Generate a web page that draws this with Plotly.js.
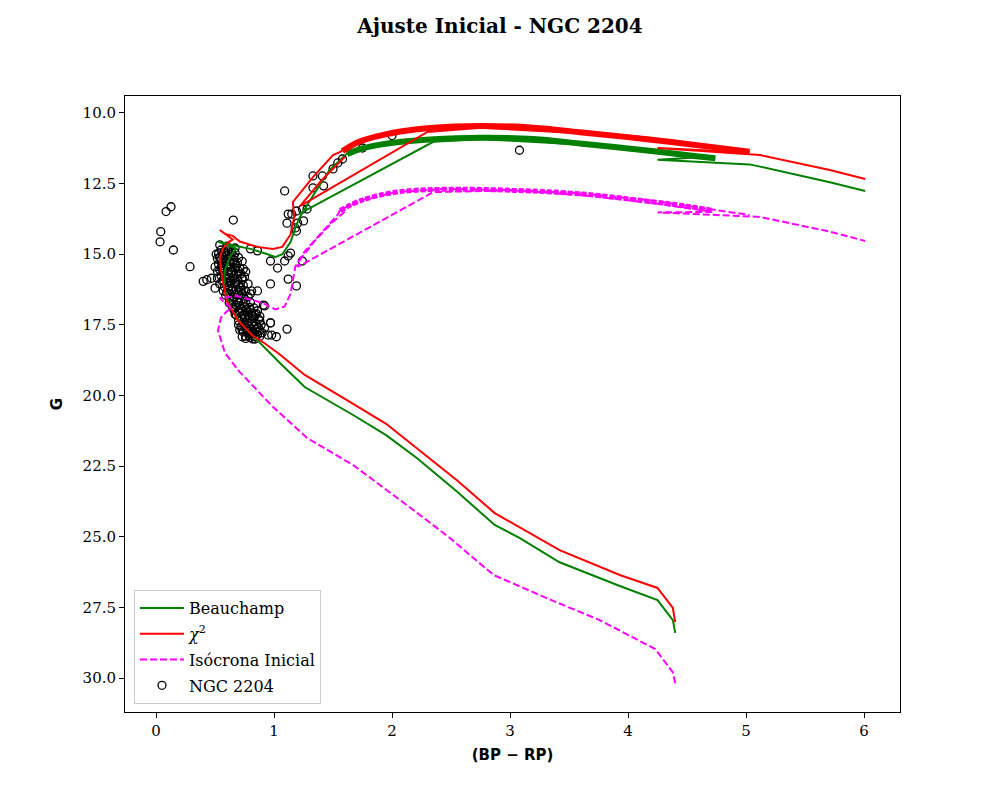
<!DOCTYPE html>
<html>
<head>
<meta charset="utf-8">
<script src="https://cdn.plot.ly/plotly-3.0.1.min.js"></script>
<style>
  body { margin: 0; background: #fff; }
  #chart { width: 1000px; height: 800px; }
</style>
</head>
<body>
<div id="chart"></div>
<script>
// isochrone Beauchamp (green) - null breaks the path between segments
let beau_bp = [4.40, 4.38, 4.25, 3.93, 3.42, 3.08, 2.87, 2.55, 2.21, 1.95, 1.67, 1.45, 1.26, 1.05, 0.84, 0.73, 0.63, 0.58, 0.58, 0.63, 0.68,
	0.525, 0.65, 0.80, 0.94, 1.01, 1.07, 1.14, 1.19, 1.22, 1.35, 1.47, 1.62, 1.90, 2.32, 2.75, 3.59, 4.16, 4.58, 4.74,
	null,
	1.22, 2.35, 2.75, 3.59, 4.16, 4.58, 4.25, 5.03, 5.12, 5.71, 6.01];
let beau_g = [28.40, 27.95, 27.24, 26.74, 25.90, 25.04, 24.58, 23.40, 22.21, 21.40, 20.69, 20.15, 19.70, 18.85, 17.96, 17.50, 16.90, 16.20, 15.60, 15.06, 14.80,
	14.55, 14.68, 14.81, 14.99, 15.10, 15.00, 14.57, 13.96, 13.67, 12.80, 12.02, 11.43, 11.13, 10.93, 10.86, 11.07, 11.31, 11.51, 11.60,
	null,
	13.55, 11.02, 10.92, 11.12, 11.38, 11.58, 11.66, 11.82, 11.90, 12.45, 12.76];
let beau_band_bp = [1.62, 1.75, 1.90, 2.10, 2.32, 2.75, 3.20, 3.59, 4.16, 4.58, 4.74];
let beau_band_g = [11.45, 11.25, 11.12, 11.01, 10.94, 10.88, 10.92, 11.08, 11.33, 11.53, 11.60];

// isochrone chi^2 (red)
let chi_bp = [4.40, 4.38, 4.25, 3.93, 3.42, 3.08, 2.87, 2.55, 2.21, 1.95, 1.66, 1.45, 1.26, 1.05, 0.92, 0.81, 0.69, 0.60, 0.56, 0.54, 0.57, 0.62, 0.65,
	0.54, 0.585, 0.65, 0.71, 0.86, 0.99, 1.07, 1.14, 1.17, 1.16, 1.33, 1.50, 1.56, 1.67, 1.90, 2.32, 2.75, 3.20, 3.59, 4.16, 4.72, 5.03,
	null,
	1.60, 1.40, 1.22, 2.30, 2.75, 3.59, 4.16, 4.72, 5.03, 4.25, 5.12, 5.71, 6.01];
let chi_g = [28.02, 27.52, 26.81, 26.35, 25.47, 24.65, 24.16, 23.00, 21.86, 21.00, 20.27, 19.75, 19.27, 18.55, 18.15, 17.85, 17.32, 16.65, 15.84, 15.13, 14.78, 14.55, 14.48,
	14.14, 14.28, 14.35, 14.55, 14.74, 14.81, 14.74, 14.30, 13.70, 13.15, 12.27, 11.49, 11.38, 11.06, 10.78, 10.52, 10.45, 10.50, 10.65, 10.87, 11.17, 11.35,
	null,
	11.55, 12.40, 13.30, 10.67, 10.52, 10.72, 10.94, 11.24, 11.40, 11.24, 11.49, 12.02, 12.34];
let chi_band_bp = [1.58, 1.72, 1.90, 2.10, 2.32, 2.75, 3.20, 3.59, 4.16, 4.72, 5.03];
let chi_band_g = [11.35, 11.02, 10.80, 10.64, 10.53, 10.46, 10.52, 10.68, 10.93, 11.21, 11.37];

// initial isochrone (magenta, dashed)
let ini_bp = [4.40, 4.38, 4.23, 3.76, 3.30, 2.86, 2.49, 2.18, 1.67, 1.28, 0.99, 0.71, 0.585, 0.525, 0.55, 0.60, 0.64,
	0.54, 0.69, 0.90, 1.01, 1.09, 1.14, 1.16, 1.18, 1.26, 1.43, 1.54, 1.56, 1.75, 2.04, 2.46, 3.03, 3.59, 4.16, 4.72, 5.03,
	null,
	1.60, 1.50, 1.35, 1.22, 1.20, 2.35, 3.03, 3.59, 4.16, 4.72, 4.25, 5.03, 5.12, 5.71, 6.01];
let ini_g = [30.18, 29.80, 28.97, 27.95, 27.15, 26.35, 25.04, 24.05, 22.46, 21.50, 20.40, 19.17, 18.50, 17.70, 17.25, 17.02, 16.92,
	16.55, 16.48, 16.72, 16.95, 16.85, 16.40, 15.84, 15.45, 14.90, 14.10, 13.60, 13.43, 13.08, 12.79, 12.69, 12.73, 12.84, 13.08, 13.43, 13.61,
	null,
	13.50, 13.85, 14.50, 15.20, 15.45, 12.80, 12.74, 12.90, 13.16, 13.50, 13.52, 13.64, 13.68, 14.20, 14.53];
let ini_band_bp = [1.56, 1.75, 2.04, 2.46, 3.03, 3.59, 4.16, 4.50, 4.72];
let ini_band_g = [13.45, 13.08, 12.80, 12.70, 12.74, 12.86, 13.12, 13.30, 13.45];

// NGC 2204 members
let star_bp = [0.127, 0.085, 0.040, 0.034, 0.147, 0.288, 0.400, 0.655,
	1.09, 1.33, 1.41, 1.42, 1.33, 1.50, 1.54, 1.58, 1.75, 2.00, 3.08,
	1.15, 1.19, 1.24, 1.28, 1.20, 1.11, 1.18, 1.19, 1.25, 1.12, 1.09, 1.12, 1.14, 1.03, 0.97, 0.86, 0.80, 1.12, 0.97, 1.19, 1.24,
	0.74, 0.73, 0.86, 0.81, 0.92, 1.11, 1.02, 0.98, 0.95, 0.91, 0.88, 0.97, 0.50, 0.47, 0.43,
	0.54, 0.60, 0.67, 0.55, 0.58, 0.61, 0.64, 0.67, 0.53, 0.56, 0.60, 0.63, 0.66, 0.70,
	0.52, 0.55, 0.58, 0.62, 0.65, 0.69, 0.73, 0.53, 0.56, 0.60, 0.63, 0.67, 0.71,
	0.54, 0.57, 0.61, 0.64, 0.68, 0.72, 0.76, 0.55, 0.58, 0.62, 0.65, 0.69, 0.73,
	0.56, 0.60, 0.63, 0.67, 0.70, 0.74, 0.78, 0.58, 0.61, 0.65, 0.68, 0.72, 0.76,
	0.60, 0.63, 0.67, 0.70, 0.74, 0.78, 0.62, 0.65, 0.69, 0.72, 0.76, 0.80,
	0.64, 0.68, 0.71, 0.75, 0.79, 0.83, 0.66, 0.70, 0.73, 0.77, 0.81, 0.85,
	0.68, 0.72, 0.76, 0.79, 0.83, 0.87, 0.70, 0.74, 0.78, 0.81, 0.85, 0.89,
	0.72, 0.76, 0.80, 0.84, 0.88, 0.74, 0.78, 0.82, 0.86, 0.76, 0.80, 0.84,
	0.71, 0.80, 0.73, 0.97, 0.84, 0.92, 0.82, 0.75,
	0.51, 0.54, 0.57, 0.60, 0.63, 0.66, 0.68, 0.59, 0.62,
	0.50, 0.52, 0.55, 0.58, 0.61, 0.64, 0.66, 0.70, 0.52, 0.57, 0.60, 0.63, 0.68, 0.75,
	0.54, 0.57, 0.59, 0.62, 0.64, 0.66, 0.69, 0.71, 0.73, 0.75, 0.80,
	0.62, 0.65, 0.67, 0.70, 0.72, 0.74, 0.76, 0.78, 0.80, 0.82, 0.86, 0.88,
	0.70, 0.73, 0.75, 0.77, 0.79, 0.81, 0.83, 0.85, 0.87, 0.90, 0.88, 0.84, 0.79, 0.76];
let star_g = [13.32, 13.49, 14.20, 14.56, 14.85, 15.44, 15.96, 13.79,
	12.76, 12.23, 12.23, 12.58, 12.65, 11.98, 11.77, 11.63, 11.24, 10.80, 11.32,
	13.58, 13.47, 13.40, 13.40, 13.90, 13.90, 14.07, 14.18, 13.82, 13.58, 15.24, 15.06, 14.96, 15.49, 15.24, 14.88, 14.81, 15.88, 16.05, 16.12, 15.24,
	15.52, 15.84, 16.30, 16.30, 16.83, 17.65, 17.92, 17.86, 17.86, 16.80, 17.36, 17.43, 16.20, 15.85, 15.90,
	14.67, 14.71, 14.78, 14.85, 14.90, 14.88, 14.92, 14.95, 14.98, 15.02, 15.05, 15.10, 15.08, 15.12,
	15.15, 15.20, 15.22, 15.25, 15.28, 15.30, 15.25, 15.35, 15.40, 15.42, 15.45, 15.48, 15.50,
	15.55, 15.60, 15.62, 15.65, 15.68, 15.70, 15.62, 15.75, 15.80, 15.82, 15.85, 15.88, 15.90,
	15.95, 16.00, 16.02, 16.05, 16.08, 16.10, 16.05, 16.15, 16.20, 16.22, 16.25, 16.28, 16.30,
	16.35, 16.40, 16.42, 16.45, 16.48, 16.50, 16.55, 16.60, 16.62, 16.65, 16.68, 16.70,
	16.75, 16.80, 16.82, 16.85, 16.88, 16.90, 16.95, 17.00, 17.02, 17.05, 17.08, 17.10,
	17.15, 17.20, 17.22, 17.25, 17.28, 17.30, 17.35, 17.40, 17.42, 17.45, 17.48, 17.50,
	17.55, 17.60, 17.62, 17.65, 17.70, 17.75, 17.80, 17.82, 17.85, 17.90, 17.95, 17.92,
	17.68, 17.80, 17.92, 17.43, 17.14, 17.60, 18.00, 17.26,
	15.00, 15.12, 15.30, 15.18, 15.35, 15.22, 15.40, 14.95, 15.00,
	15.45, 15.60, 15.48, 15.55, 15.72, 15.58, 15.76, 15.60, 15.85, 15.92, 15.88, 15.95, 15.98, 15.80,
	16.05, 16.30, 16.45, 16.12, 16.30, 16.52, 16.35, 16.18, 16.40, 16.58, 16.40,
	16.72, 16.90, 17.12, 16.70, 16.92, 17.15, 16.95, 17.18, 16.95, 17.20, 17.00, 17.20,
	17.50, 17.68, 17.52, 17.72, 17.55, 17.75, 17.55, 17.75, 17.60, 17.78, 17.90, 18.00, 17.88, 17.98];

let x_ticks = [0, 1, 2, 3, 4, 5, 6];
let y_ticks = [10, 12.5, 15, 17.5, 20, 22.5, 25, 27.5, 30];

const serif = "DejaVu Serif, serif";
const dash = "7px,3px";

let stars = {
	x: star_bp, y: star_g, mode: 'markers', name: 'NGC 2204', legendrank: 4, legendgroup: 's',
	marker: {symbol: 'circle-open', size: 8, color: 'black', line: {width: 1.3, color: 'black'}}
};
let beau = {
	x: beau_bp, y: beau_g, mode: 'lines', name: 'Beauchamp', legendrank: 1, legendgroup: 'b',
	line: {color: 'green', width: 2}, connectgaps: false
};
let beau_band = {
	x: beau_band_bp, y: beau_band_g, mode: 'lines', showlegend: false, legendgroup: 'b',
	line: {color: 'green', width: 6, shape: 'spline'}
};
let chi = {
	x: chi_bp, y: chi_g, mode: 'lines', name: '<i>χ</i><sup>2</sup>', legendrank: 2, legendgroup: 'c',
	line: {color: 'red', width: 2}, connectgaps: false
};
let chi_band = {
	x: chi_band_bp, y: chi_band_g, mode: 'lines', showlegend: false, legendgroup: 'c',
	line: {color: 'red', width: 6, shape: 'spline'}
};
let ini = {
	x: ini_bp, y: ini_g, mode: 'lines', name: 'Isócrona Inicial', legendrank: 3, legendgroup: 'i',
	line: {color: 'magenta', width: 2, dash: dash}, connectgaps: false
};
let ini_band = {
	x: ini_band_bp, y: ini_band_g, mode: 'lines', showlegend: false, legendgroup: 'i',
	line: {color: 'magenta', width: 5, dash: "5px,2px", shape: 'spline'}
};

let layout = {
	width: 1000, height: 800,
	paper_bgcolor: 'white', plot_bgcolor: 'white',
	margin: {l: 125, r: 100, t: 96, b: 88},
	font: {family: serif, size: 15, color: 'black'},
	title: {text: '<b>Ajuste Inicial - NGC 2204</b>', x: 0.5, xanchor: 'center', y: 0.9675, yanchor: 'middle',
		font: {family: serif, size: 20, color: 'black'}},
	xaxis: {
		range: [-0.263, 6.305], tickvals: x_ticks, ticktext: x_ticks.map(String),
		ticks: 'outside', ticklen: 5, tickcolor: 'black', showgrid: false, zeroline: false,
		showline: true, linecolor: 'black', linewidth: 1, mirror: true,
		tickfont: {family: serif, size: 15},
		title: {text: '<b>(BP − RP)</b>', font: {family: 'DejaVu Sans, sans-serif', size: 15}, standoff: 10}
	},
	yaxis: {
		range: [31.2, 9.4], tickvals: y_ticks, ticktext: y_ticks.map(v => v.toFixed(1)),
		ticks: 'outside', ticklen: 5, tickcolor: 'black', showgrid: false, zeroline: false,
		showline: true, linecolor: 'black', linewidth: 1, mirror: true,
		tickfont: {family: serif, size: 15},
		title: {text: '<b>G</b>', font: {family: 'DejaVu Sans, sans-serif', size: 15}, standoff: 16}
	},
	legend: {
		x: 0.0116, xanchor: 'left', y: 0.013, yanchor: 'bottom',
		bgcolor: 'rgba(255,255,255,0.8)', bordercolor: '#cccccc', borderwidth: 1,
		font: {family: serif, size: 16}, traceorder: 'grouped', tracegroupgap: 2, itemwidth: 44
	},
	showlegend: true
};

Plotly.newPlot('chart', [stars, beau, beau_band, chi, chi_band, ini, ini_band], layout, {displayModeBar: false});
</script>
</body>
</html>
